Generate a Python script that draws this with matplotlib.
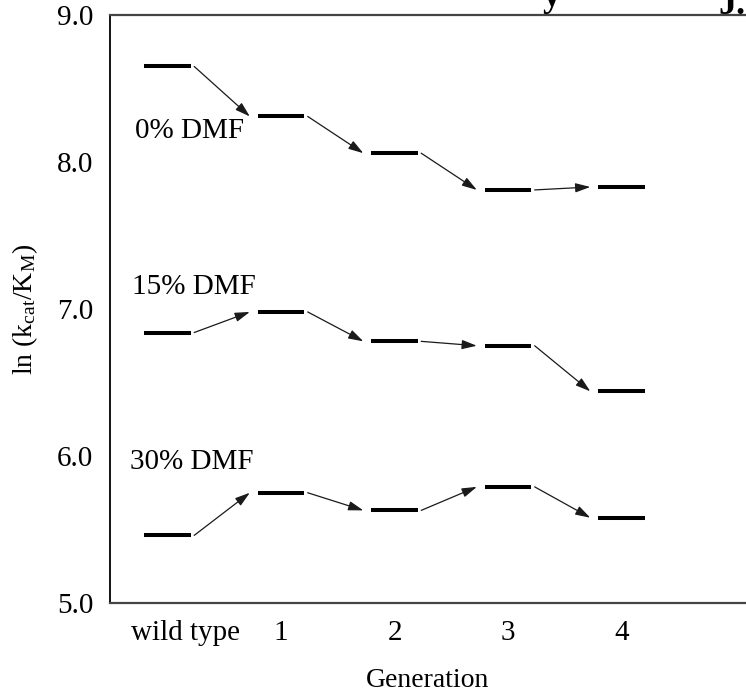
import matplotlib
matplotlib.use("Agg")
import matplotlib.pyplot as plt
import matplotlib.transforms as mtrans
import numpy as np

generations = ["wild type", "1", "2", "3", "4"]
series_names = ["0% DMF", "15% DMF", "30% DMF"]
dmf0 = [8.65, 8.31, 8.06, 7.81, 7.83]
dmf15 = [6.84, 6.98, 6.78, 6.75, 6.44]
dmf30 = [5.46, 5.75, 5.63, 5.79, 5.58]
yticks = [5.0, 6.0, 7.0, 8.0, 9.0]

plt.rcParams['font.family'] = ['Liberation Serif', 'DejaVu Serif']
plt.rcParams['mathtext.fontset'] = 'custom'
plt.rcParams['mathtext.rm'] = 'Liberation Serif'
plt.rcParams['mathtext.it'] = 'Liberation Serif:italic'

fig = plt.figure(figsize=(7.46, 6.95), dpi=100)
ax = fig.add_axes([110/746, 1-603/695, 1-110/746, (603-15)/695])

x = np.arange(len(generations))
half = 0.205
for vals in (dmf0, dmf15, dmf30):
    for xi, v in zip(x, vals):
        ax.plot([xi-half, xi+half], [v, v], color='black', lw=2.9, solid_capstyle='butt')
    for i in range(len(vals)-1):
        ax.annotate("", xy=(x[i+1]-half-0.07, vals[i+1]), xytext=(x[i]+half+0.03, vals[i]),
                    arrowprops=dict(arrowstyle='-|>,head_length=0.9,head_width=0.28',
                                    color='#1a1a1a', lw=0.9, shrinkA=0, shrinkB=0))

label_pos = [(-0.29, 8.21), (-0.31, 7.15), (-0.33, 5.96)]
for name, (lx, ly) in zip(series_names, label_pos):
    ax.text(lx, ly, name, fontsize=21, ha='left', va='center')

ax.set_xlim(-0.507, (746-167.5)/113.5)
ax.set_ylim(5.0, 9.0)
ax.set_yticks(yticks)
ax.set_yticklabels([f"{t:.1f}" for t in yticks], fontsize=21)
ax.set_xticks(x)
ax.set_xticklabels(generations, fontsize=21)
ax.tick_params(length=0)
ax.tick_params(axis='x', pad=12)
ax.tick_params(axis='y', pad=12)
lbl = ax.get_xticklabels()[0]
lbl.set_transform(lbl.get_transform() + mtrans.ScaledTranslation(0.18, 0, fig.dpi_scale_trans))

ax.spines['right'].set_visible(False)
ax.spines['left'].set_linewidth(1.3)
ax.spines['top'].set_linewidth(1.6)
ax.spines['bottom'].set_linewidth(1.6)
ax.spines['top'].set_color('#444444')
ax.spines['bottom'].set_color('#444444')

ax.set_xlabel("Generation", fontsize=20, labelpad=16)
ax.set_ylabel(r"ln (k$_{\rm cat}$/K$_{\rm M}$)", fontsize=20, labelpad=12)

fig.text(552/746, 1-6/695, "y", fontsize=26, fontweight='bold', ha='center', va='baseline')
fig.text(732/746, 1-14/695, "J.", fontsize=26, fontweight='bold', ha='center', va='baseline')

fig.savefig("out.png", dpi=100)
